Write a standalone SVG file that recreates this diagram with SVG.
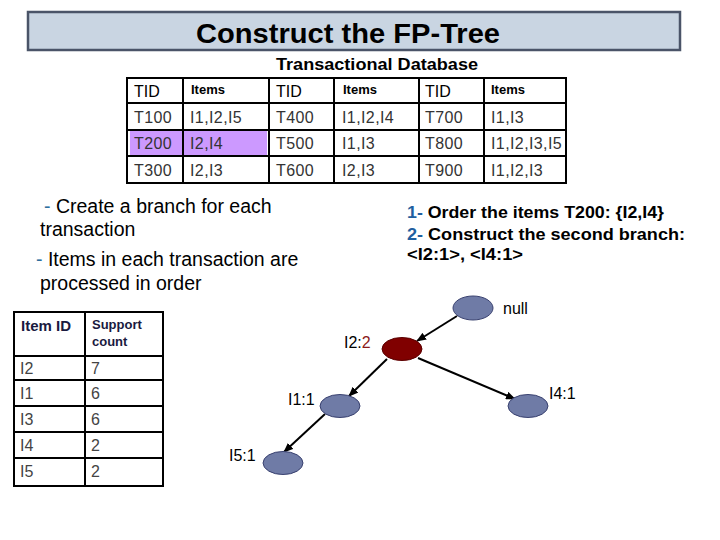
<svg xmlns="http://www.w3.org/2000/svg" width="720" height="540" viewBox="0 0 720 540">
<defs>
<marker id="arr" markerWidth="10" markerHeight="8" refX="9" refY="4" orient="auto" markerUnits="userSpaceOnUse">
<path d="M0,0 L10,4 L0,8 z" fill="#000"/>
</marker>
<style>
text{font-family:"Liberation Sans",Arial,sans-serif;}
.grid{stroke:#000;stroke-width:2;fill:none;}
.hd{font-size:16px;fill:#000;}
.hi{font-size:13px;font-weight:bold;fill:#000;}
.cell{font-size:16px;fill:#333;letter-spacing:0.4px;}
.note{font-size:19.5px;fill:#000;}
.dash{fill:#2E6F9E;}
.step{font-size:16px;font-weight:bold;fill:#000;}
.num{fill:#1F5FA0;}
.node{fill:#6F7BA6;stroke:#3A4270;stroke-width:1;}
.lbl{font-size:16px;fill:#000;}
.edge{stroke:#000;stroke-width:2;fill:none;marker-end:url(#arr);}
.ih{font-size:15px;font-weight:bold;fill:#1a1a40;}
.sh{font-size:13px;font-weight:bold;fill:#1a1a40;}
.ic{font-size:16px;fill:#444;}
</style>
</defs>
<rect width="720" height="540" fill="#fff"/>
<g id="title">
<rect x="28" y="12" width="652" height="38" fill="#C9D5E2" stroke="#4A5468" stroke-width="2.5"/>
<text x="348" y="43" font-size="28" font-weight="bold" text-anchor="middle" textLength="304" lengthAdjust="spacingAndGlyphs">Construct the FP-Tree</text>
</g>
<g id="db">
<text x="377" y="70" font-size="17" font-weight="bold" text-anchor="middle" textLength="202" lengthAdjust="spacingAndGlyphs">Transactional Database</text>
<rect x="130" y="130" width="137" height="26" fill="#CC99FF"/>
<rect x="127" y="78" width="439" height="105" class="grid"/>
<path class="grid" d="M127,103H566M127,130H566M127,156H566M183,78V183M269,78V183M334,78V183M419,78V183M484,78V183"/>
<text class="hd" x="134" y="97">TID</text><text class="hi" x="191" y="94">Items</text>
<text class="hd" x="276" y="97">TID</text><text class="hi" x="343" y="94">Items</text>
<text class="hd" x="425" y="97">TID</text><text class="hi" x="491" y="94">Items</text>
<text class="cell" x="134" y="123">T100</text><text class="cell" x="190" y="123">I1,I2,I5</text>
<text class="cell" x="276" y="123">T400</text><text class="cell" x="342" y="123">I1,I2,I4</text>
<text class="cell" x="425" y="123">T700</text><text class="cell" x="491" y="123">I1,I3</text>
<text class="cell" x="134" y="149">T200</text><text class="cell" x="190" y="149">I2,I4</text>
<text class="cell" x="276" y="149">T500</text><text class="cell" x="342" y="149">I1,I3</text>
<text class="cell" x="425" y="149">T800</text><text class="cell" x="491" y="149">I1,I2,I3,I5</text>
<text class="cell" x="134" y="176">T300</text><text class="cell" x="190" y="176">I2,I3</text>
<text class="cell" x="276" y="176">T600</text><text class="cell" x="342" y="176">I2,I3</text>
<text class="cell" x="425" y="176">T900</text><text class="cell" x="491" y="176">I1,I2,I3</text>
</g>
<g id="notes">
<text class="note" x="44" y="213"><tspan class="dash">-</tspan> Create a branch for each</text>
<text class="note" x="40" y="236">transaction</text>
<text class="note" x="36" y="266"><tspan class="dash">-</tspan> Items in each transaction are</text>
<text class="note" x="40" y="290">processed in order</text>
</g>
<g id="steps">
<text class="step" x="407" y="218" textLength="257" lengthAdjust="spacingAndGlyphs"><tspan class="num">1-</tspan> Order the items T200: {I2,I4}</text>
<text class="step" x="407" y="240" textLength="278" lengthAdjust="spacingAndGlyphs"><tspan class="num">2-</tspan> Construct the second branch:</text>
<text class="step" x="407" y="260" textLength="116" lengthAdjust="spacingAndGlyphs">&lt;I2:1&gt;, &lt;I4:1&gt;</text>
</g>
<g id="itemtable">
<rect x="14" y="312" width="149" height="174" class="grid"/>
<path class="grid" d="M14,356H163M14,380H163M14,406H163M14,432H163M14,458H163M85,312V486"/>
<text class="ih" x="21" y="331">Item ID</text>
<text class="sh" x="92" y="329">Support</text>
<text class="sh" x="92" y="346">count</text>
<text class="ic" x="20" y="374">I2</text><text class="ic" x="91" y="374">7</text>
<text class="ic" x="20" y="399">I1</text><text class="ic" x="91" y="399">6</text>
<text class="ic" x="20" y="425">I3</text><text class="ic" x="91" y="425">6</text>
<text class="ic" x="20" y="451">I4</text><text class="ic" x="91" y="451">2</text>
<text class="ic" x="20" y="477">I5</text><text class="ic" x="91" y="477">2</text>
</g>
<g id="connectors">
<line class="edge" x1="457" y1="316" x2="417" y2="341"/>
<line class="edge" x1="387" y1="359" x2="349" y2="396"/>
<line class="edge" x1="418" y1="358" x2="515" y2="399"/>
<line class="edge" x1="325" y1="414" x2="284" y2="452"/>
</g>
<g id="null">
<ellipse class="node" cx="473" cy="308" rx="20" ry="12"/>
<text class="lbl" x="503" y="314">null</text>
</g>
<g id="I2">
<ellipse cx="402" cy="349" rx="20" ry="11.5" fill="#800000" stroke="#5a0000"/>
<text class="lbl" x="344" y="348">I2:<tspan fill="#8B1A1A">2</tspan></text>
</g>
<g id="I1">
<ellipse class="node" cx="340" cy="406" rx="20" ry="11.5"/>
<text class="lbl" x="288" y="405">I1:1</text>
</g>
<g id="I4">
<ellipse class="node" cx="528" cy="406" rx="20" ry="11.5"/>
<text class="lbl" x="549" y="399">I4:1</text>
</g>
<g id="I5">
<ellipse class="node" cx="283" cy="463" rx="20" ry="11.5"/>
<text class="lbl" x="229" y="461">I5:1</text>
</g>
</svg>
